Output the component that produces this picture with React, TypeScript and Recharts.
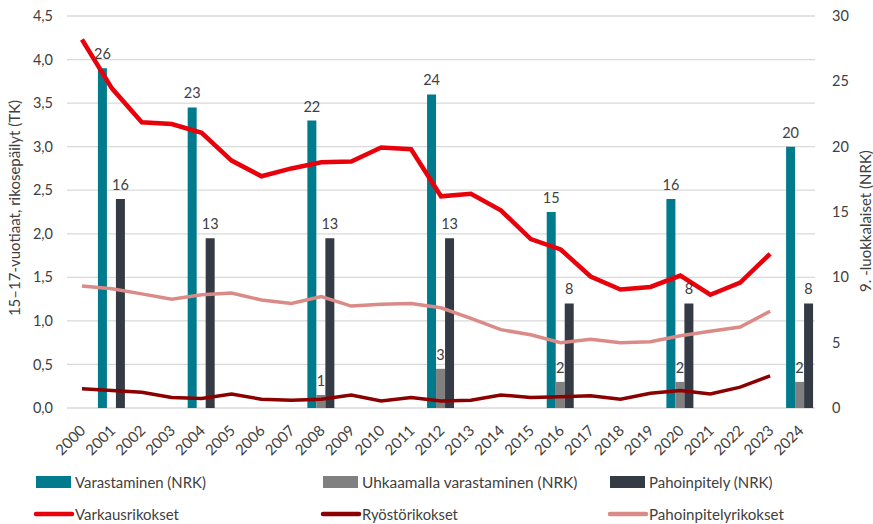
import React from "react";
import {
  ComposedChart, Bar, Line, XAxis, YAxis, CartesianGrid, Legend, LabelList,
} from "recharts";

const years = [
  "2000", "2001", "2002", "2003", "2004", "2005", "2006", "2007", "2008", "2009",
  "2010", "2011", "2012", "2013", "2014", "2015", "2016", "2017", "2018", "2019",
  "2020", "2021", "2022", "2023", "2024",
];

// NRK (right axis), only survey years
const varastaminen = [null, 26, null, null, 23, null, null, null, 22, null, null, null, 24, null, null, null, 15, null, null, null, 16, null, null, null, 20];
const uhkaamalla = [null, null, null, null, null, null, null, null, 1, null, null, null, 3, null, null, null, 2, null, null, null, 2, null, null, null, 2];
const pahoinpitely = [null, 16, null, null, 13, null, null, null, 13, null, null, null, 13, null, null, null, 8, null, null, null, 8, null, null, null, 8];

// TK (left axis)
const varkaus = [4.23, 3.67, 3.28, 3.26, 3.16, 2.84, 2.66, 2.75, 2.82, 2.83, 2.99, 2.97, 2.43, 2.46, 2.27, 1.94, 1.82, 1.51, 1.36, 1.39, 1.52, 1.30, 1.44, 1.77, null];
const ryosto = [0.22, 0.20, 0.18, 0.12, 0.11, 0.16, 0.10, 0.09, 0.10, 0.15, 0.08, 0.12, 0.08, 0.09, 0.15, 0.12, 0.13, 0.14, 0.10, 0.17, 0.20, 0.16, 0.24, 0.37, null];
const pahoinpitelyRik = [1.40, 1.37, 1.31, 1.25, 1.30, 1.32, 1.24, 1.20, 1.28, 1.17, 1.19, 1.20, 1.15, 1.03, 0.90, 0.84, 0.75, 0.79, 0.75, 0.76, 0.83, 0.88, 0.93, 1.11, null];

const leftTicks = [0, 0.5, 1, 1.5, 2, 2.5, 3, 3.5, 4, 4.5];
const rightTicks = [0, 5, 10, 15, 20, 25, 30];

const data = years.map((y, i) => ({
  year: y,
  varastaminen: varastaminen[i],
  uhkaamalla: uhkaamalla[i],
  pahoinpitely: pahoinpitely[i],
  varkaus: varkaus[i],
  ryosto: ryosto[i],
  pahoinpitelyRik: pahoinpitelyRik[i],
}));

const TEXT = "#404040";
const FONT = "Lato, 'Open Sans', sans-serif";
const TICK_STYLE = { fontSize: 14.5, fill: TEXT, fontFamily: FONT };

const legendItems = [
  { label: "Varastaminen (NRK)", color: "#007b8d", kind: "bar", col: 0, row: 0, w: 131 },
  { label: "Uhkaamalla varastaminen (NRK)", color: "#808080", kind: "bar", col: 1, row: 0, w: 216 },
  { label: "Pahoinpitely (NRK)", color: "#353b45", kind: "bar", col: 2, row: 0, w: 124 },
  { label: "Varkausrikokset", color: "#e8000b", kind: "line", col: 0, row: 1, w: 104 },
  { label: "Ryöstörikokset", color: "#8b0000", kind: "line", col: 1, row: 1, w: 96 },
  { label: "Pahoinpitelyrikokset", color: "#da8a87", kind: "line", col: 2, row: 1, w: 135 },
];
const colX = [36, 323, 610];

// match legend label widths to the original (its font is a bit narrower than Lato)
let ctx: CanvasRenderingContext2D | null = null;
function textWidth(s: string, size: number) {
  if (!ctx) ctx = document.createElement("canvas").getContext("2d");
  if (!ctx) return s.length * size * 0.55;
  ctx.font = `${size}px Lato`;
  return ctx.measureText(s).width;
}

function ChartLegend() {
  return (
    <svg width={873} height={66} style={{ display: "block" }}>
      {legendItems.map((it) => {
        const x = colX[it.col];
        const cy = it.row === 0 ? 24 : 56;
        const sx = Math.min(1.1, it.w / textWidth(it.label, 15));
        return (
          <g key={it.label}>
            {it.kind === "bar" ? (
              <rect x={x} y={cy - 6} width={35} height={12} fill={it.color} />
            ) : (
              <line x1={x} x2={x + 36} y1={cy} y2={cy} stroke={it.color} strokeWidth={4.5} strokeLinecap="round" />
            )}
            <text transform={`translate(${x + 39},${cy + 5.5}) scale(${sx},1)`} fontSize={15} fill={TEXT} fontFamily={FONT}>
              {it.label}
            </text>
          </g>
        );
      })}
    </svg>
  );
}

const hideNull = (v: any) => (v == null ? "" : v);

export default function App() {
  return (
    <div style={{ width: 873, height: 524, background: "#fff" }}>
      <style>{`body{margin:0}`}</style>
      <ComposedChart width={873} height={524} data={data} barGap={0}
        margin={{ top: 16, right: 0, bottom: 0, left: 0 }}>
        <CartesianGrid yAxisId="left" vertical={false} stroke="#d9d9d9" strokeWidth={1.3} />
        <XAxis dataKey="year" interval={0} height={50} tickLine={false} axisLine={false}
          tickSize={0} tickMargin={16} angle={-45} textAnchor="end" dx={-3} tick={{ ...TICK_STYLE, fontSize: 15 }} />
        <YAxis yAxisId="left" orientation="left" width={67} domain={[0, 4.5]} ticks={leftTicks}
          tickLine={false} axisLine={false} tickSize={0} tickMargin={14} tick={TICK_STYLE}
          tickFormatter={(v: number) => v.toFixed(1).replace(".", ",")}
          label={{ value: "15–17-vuotiaat, rikosepäilyt (TK)", angle: -90, position: "center", dx: -19, dy: -4, style: { fontSize: 15, fill: TEXT, fontFamily: FONT } }} />
        <YAxis yAxisId="right" orientation="right" width={58} domain={[0, 30]} ticks={rightTicks}
          tickLine={false} axisLine={false} tickSize={0} tickMargin={17} tick={{ ...TICK_STYLE, textAnchor: "start" }}
          label={{ value: "9. -luokkalaiset (NRK)", angle: -90, position: "center", dx: 22, dy: 9, style: { fontSize: 15, fill: TEXT, fontFamily: FONT } }} />
        <Legend verticalAlign="bottom" content={() => <ChartLegend />}
          wrapperStyle={{ left: 0, bottom: 0, width: 873, height: 66 }} />
        <Bar yAxisId="right" dataKey="varastaminen" name="Varastaminen (NRK)" fill="#007b8d" barSize={9} isAnimationActive={false}>
          <LabelList dataKey="varastaminen" position="top" offset={9} formatter={hideNull} style={TICK_STYLE} />
        </Bar>
        <Bar yAxisId="right" dataKey="uhkaamalla" name="Uhkaamalla varastaminen (NRK)" fill="#808080" barSize={9} isAnimationActive={false}>
          <LabelList dataKey="uhkaamalla" position="top" offset={9} formatter={hideNull} style={TICK_STYLE} />
        </Bar>
        <Bar yAxisId="right" dataKey="pahoinpitely" name="Pahoinpitely (NRK)" fill="#353b45" barSize={9} isAnimationActive={false}>
          <LabelList dataKey="pahoinpitely" position="top" offset={9} formatter={hideNull} style={TICK_STYLE} />
        </Bar>
        <Line yAxisId="left" dataKey="pahoinpitelyRik" name="Pahoinpitelyrikokset" stroke="#da8a87" strokeWidth={3.5} dot={false} isAnimationActive={false} />
        <Line yAxisId="left" dataKey="ryosto" name="Ryöstörikokset" stroke="#8b0000" strokeWidth={3.5} dot={false} isAnimationActive={false} />
        <Line yAxisId="left" dataKey="varkaus" name="Varkausrikokset" stroke="#e8000b" strokeWidth={4.5} dot={false} isAnimationActive={false} />
      </ComposedChart>
    </div>
  );
}
